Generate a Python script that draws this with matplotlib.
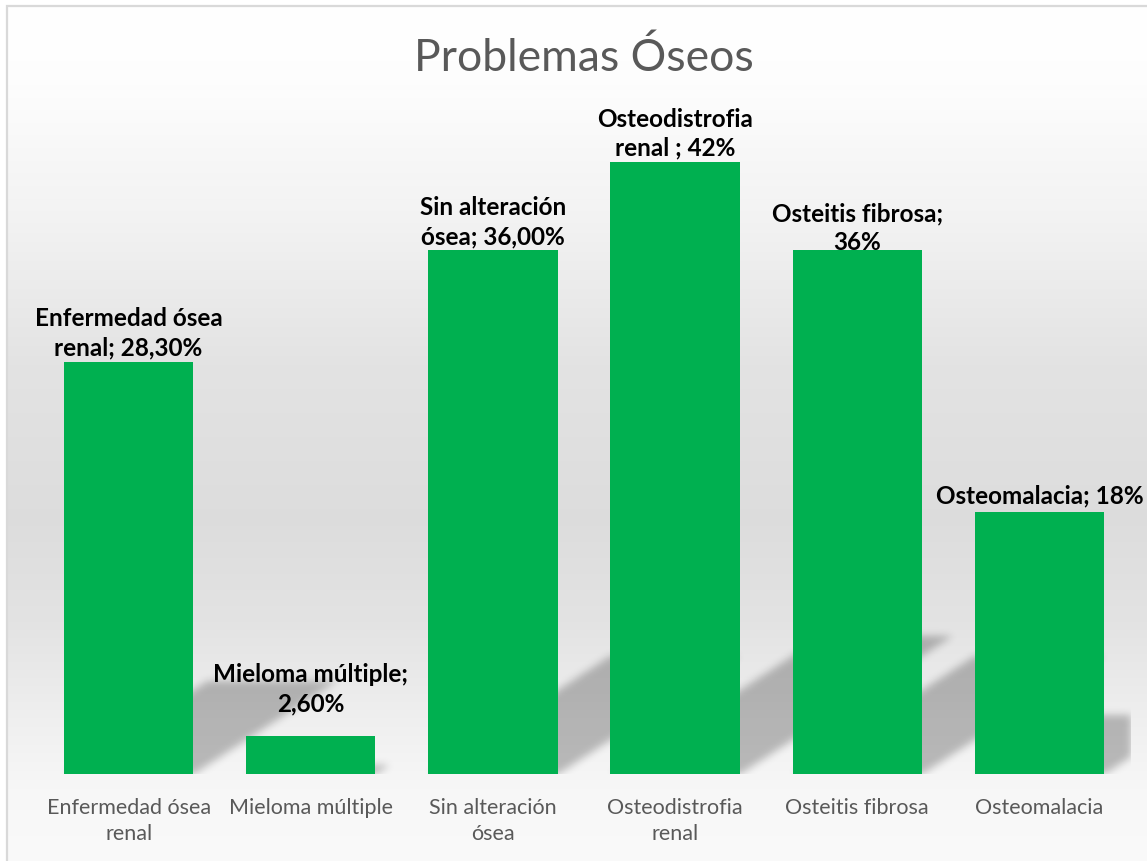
import numpy as np
import matplotlib.pyplot as plt

# bone problems in renal patients, percentage of cases
categories = ["Enfermedad ósea\nrenal", "Mieloma múltiple", "Sin alteración\nósea",
              "Osteodistrofia\nrenal", "Osteitis fibrosa", "Osteomalacia"]
label_heads = ["Enfermedad ósea\nrenal; ", "Mieloma múltiple;\n", "Sin alteración\nósea; ",
               "Osteodistrofia\nrenal ; ", "Osteitis fibrosa;\n", "Osteomalacia; "]
values = [28.3, 2.6, 36.0, 42.0, 36.0, 18.0]
decimals = [2, 2, 2, 0, 0, 0]

BAR_GREEN = "#00B050"
GREY_TEXT = "#595959"
FONT = "Lato"

W, H, DPI = 1147, 861, 100
fig = plt.figure(figsize=(W / DPI, H / DPI), dpi=DPI)
fig.patch.set_facecolor("white")

# chart area: white-grey-white vertical gradient with a thin frame
bg = fig.add_axes([0, 0, 1, 1], zorder=-2)
bg.set_xlim(0, W)
bg.set_ylim(H, 0)
bg.set_axis_off()
stop_pos = [0.0, 0.08, 0.25, 0.42, 0.60, 0.72, 0.84, 0.92, 1.0]
stop_val = [1.0, 0.995, 0.95, 0.89, 0.865, 0.89, 0.94, 0.97, 0.98]
shade = np.interp(np.linspace(0, 1, H), stop_pos, stop_val)
grad = np.repeat(shade[:, None, None], 3, axis=2)
bg.imshow(grad, aspect="auto", extent=(8, W, H, 7), interpolation="bilinear")
bg.plot([7, 7, W + 5], [H + 5, 6, 6], color="#D9D9D9", lw=1.6, solid_joinstyle="miter")

base_px = 774
px_per_pct = 14.56
ymax = 45
ax = fig.add_axes([37.5 / W, (H - base_px) / H, 1093 / W, ymax * px_per_pct / H])
ax.set_facecolor("none")
ax.set_xlim(-0.5, len(values) - 0.5)
ax.set_ylim(0, ymax)
for s in ax.spines.values():
    s.set_visible(False)
ax.set_yticks([])

x = np.arange(len(values))
bar_w = 0.71
ax.bar(x, values, width=bar_w, color=BAR_GREEN, zorder=3)

# perspective shadow behind each bar, cast towards the upper right
bb = ax.bbox
nx, ny = int(round(bb.width)), int(round(bb.height))
X, Y = np.meshgrid(bb.x0 + np.arange(nx) + 0.5, bb.y0 + np.arange(ny) + 0.5)
mask = np.zeros((ny, nx))
for i, v in enumerate(values):
    (xa, yb), (xb, yt) = ax.transData.transform([(i - bar_w / 2, 0), (i + bar_w / 2, v)])
    h_sh = 0.225 * (yt - yb)
    d = Y - yb
    shift = d / 0.65
    inside = (d >= 0) & (d <= h_sh) & (X >= xa + shift) & (X <= xb + shift)
    mask[inside] = 1.0

sigma = 4.0
r = np.arange(-12, 13)
kern = np.exp(-0.5 * (r / sigma) ** 2)
kern /= kern.sum()
mask = np.apply_along_axis(lambda row: np.convolve(row, kern, mode="same"), 1, mask)
mask = np.apply_along_axis(lambda col: np.convolve(col, kern, mode="same"), 0, mask)
shadow = np.zeros((ny, nx, 4))
shadow[..., 3] = 0.25 * mask
ax.imshow(shadow, origin="lower", aspect="auto", extent=(-0.5, len(values) - 0.5, 0, ymax),
          interpolation="nearest", zorder=1)

# data labels: name; value
lift = [2, 15, 1, 2, -3, 3]
for i, v in enumerate(values):
    txt = label_heads[i] + f"{v:.{decimals[i]}f}".replace(".", ",") + "%"
    ax.annotate(txt, (i, v), xytext=(0, lift[i]), textcoords="offset points",
                ha="center", va="bottom", fontsize=17.5, fontweight="bold",
                family=FONT, color="black", linespacing=1.32, zorder=4,
                annotation_clip=False)

ax.set_xticks(x)
ax.set_xticklabels(categories, fontsize=15.5, color=GREY_TEXT, family=FONT, linespacing=1.42)
ax.tick_params(axis="x", length=0, pad=17)

fig.text(584 / W, 1 - 58 / H, "Problemas Óseos", ha="center", va="center",
         fontsize=32, color=GREY_TEXT, family=FONT)

fig.savefig("out.png", dpi=DPI)
